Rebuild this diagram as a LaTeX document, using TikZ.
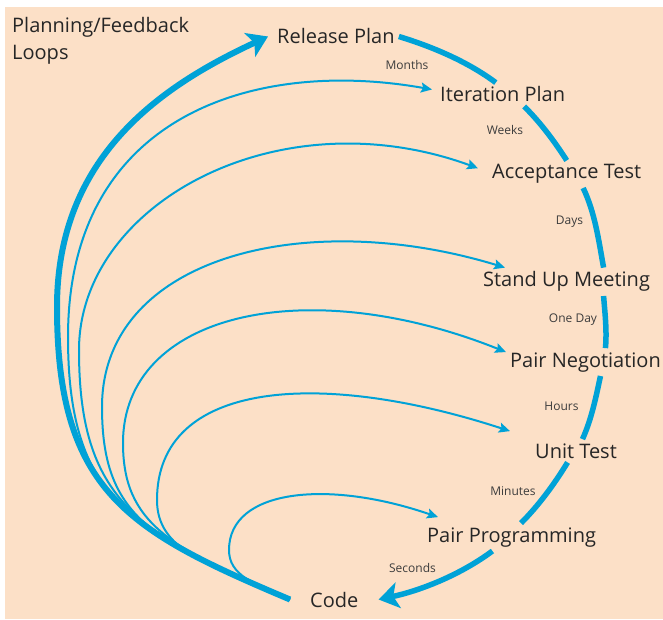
\documentclass[tikz,border=0pt]{standalone}
\usepackage{fontspec}
\setmainfont{Open Sans}
\usetikzlibrary{arrows.meta}

\definecolor{peach}{HTML}{FCE0C7}
\definecolor{sky}{HTML}{00A2D7}
\definecolor{ink}{HTML}{262626}
\definecolor{inkl}{HTML}{3C3C3C}

\tikzset{
  stage/.style={font=\fontsize{20}{24}\selectfont, text=ink, inner sep=4pt},
  span/.style={font=\fontsize{12}{14}\selectfont, text=inkl, inner sep=1pt, anchor=base},
  ring/.style={draw=sky, line width=5.5pt, looseness=0.85},
  feed/.style={draw=sky, line width=2pt, -{Stealth[length=11pt,width=10pt,inset=2pt]}},
  mainfeed/.style={draw=sky, line width=6pt, -{Stealth[length=20pt,width=26pt,inset=5pt]}},
}

\begin{document}
\begin{tikzpicture}[x=1pt, y=1pt]
    % --- 1. 背景 ---
    \useasboundingbox (0,0) rectangle (663,619);
    \fill[peach] (5,0) rectangle (663,612);

    % --- 2. 標題 ---
    \node[stage, anchor=north west, align=left,
          font=\fontsize{20}{27}\selectfont] (title) at (8,606)
        {Planning/Feedback\\Loops};

    % --- 3. 各階段 (依基線放置) ---
    \node[stage, anchor=base west] (rel)  at (273,575) {Release Plan};
    \node[stage, anchor=base west] (it)   at (436,517) {Iteration Plan};
    \node[stage, anchor=base west] (acc)  at (488,440) {Acceptance Test};
    \node[stage, anchor=base west] (sum)  at (479,332) {Stand Up Meeting};
    \node[stage, anchor=base west] (pn)   at (506,252) {Pair Negotiation};
    \node[stage, anchor=base west] (ut)   at (531,161) {Unit Test};
    \node[stage, anchor=base west] (pp)   at (423,77)  {Pair Programming};
    \node[stage, anchor=base west, inner xsep=20pt] (code) at (290,12) {Code};

    % --- 4. 週期標籤 ---
    \node[span] (months)  at (407,549)   {Months};
    \node[span] (weeks)   at (505,484)   {Weeks};
    \node[span] (days)    at (569.5,394) {Days};
    \node[span] (oneday)  at (573,297)   {One Day};
    \node[span] (hours)   at (561.5,209) {Hours};
    \node[span] (minutes) at (513,124)   {Minutes};
    \node[span] (seconds) at (412.5,47)  {Seconds};

    % --- 5. 外圈 (Release Plan -> Code) ---
    \draw[ring] (rel.east) to[out=-17,  in=143.5] (it.120);
    \draw[ring] (it.-29)   to[out=-44.6,in=122.7] (acc.north);
    \draw[ring] (acc.-40)  to[out=-64.3,in=100.2] (sum.21);
    \draw[ring] (sum.-21)  to[out=-85.5,in=84.7]  (pn.35);
    \draw[ring] (pn.-43)   to[out=-102, in=65.6]  (ut.61);
    \draw[ring] (ut.-126)  to[out=-121.4,in=45.1] (pp.56);
    \draw[ring, -{Stealth[length=20pt,width=26pt,inset=5pt]}]
        (pp.-144) to[out=-143.3,in=12] (code.east);

    % --- 6. 回饋迴圈 (Code -> 各階段) ---
    \draw[mainfeed] (code.west) .. controls +(-161,68) and +(0,-185) .. (57,312)
        .. controls +(0,150) and +(-108,-50) .. ([xshift=-5]rel.west);
    \draw[feed] (code.west) .. controls +(-156,66) and +(0,-165) .. (68,282)
        .. controls +(0,220) and +(-180,32) .. ([shift={(-4,5)}]it.west);
    \draw[feed] (code.west) .. controls +(-152,64) and +(0,-150) .. (79,269)
        .. controls +(0,146) and +(-200,73) .. ([shift={(-10,6)}]acc.west);
    \draw[feed] (code.west) .. controls +(-138,58) and +(0,-110) .. (102,212)
        .. controls +(0,150) and +(-200,61) .. ([xshift=26]sum.north west);
    \draw[feed] (code.west) .. controls +(-120,51) and +(0,-80) .. (123,176)
        .. controls +(0,130) and +(-200,80) .. ([yshift=10]pn.west);
    \draw[feed] (code.west) .. controls +(-83,35) and +(0,-50) .. (157,119)
        .. controls +(0,120) and +(-190,62) .. ([shift={(-21,8)}]ut.north west);
    \draw[feed] (code.west) .. controls +(-37,16) and +(0,-25) .. (229,69)
        .. controls +(0,61) and +(-110,38) .. ([shift={(15,6)}]pp.north west);
\end{tikzpicture}
\end{document}
